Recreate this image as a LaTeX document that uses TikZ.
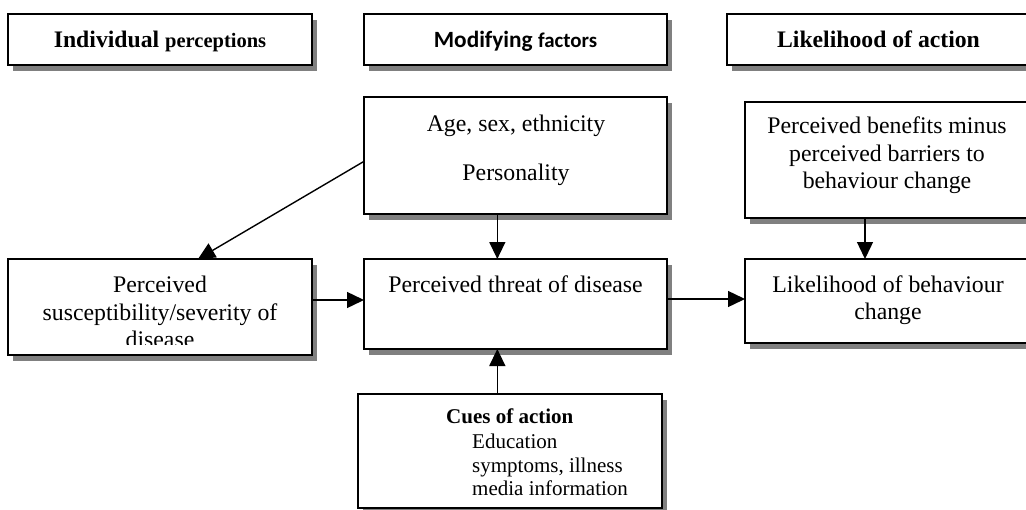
\documentclass[tikz,border=0pt]{standalone}
\usepackage{fontspec}
\setmainfont{Liberation Serif}
\newfontfamily\calibfont{Carlito}
\usetikzlibrary{arrows.meta,shadows,calc}
\definecolor{shadowgrey}{HTML}{808080}
\tikzset{
  box/.style={draw=black, line width=1.9pt, fill=white, anchor=north west,
    inner sep=0pt, outer sep=0pt,
    drop shadow={shadow xshift=5pt, shadow yshift=-6pt, fill=shadowgrey, opacity=1}},
  body/.style={font=\fontsize{23.8}{27.5}\selectfont, anchor=base, inner sep=0pt},
  cue/.style={font=\fontsize{21}{24}\selectfont, anchor=base west, inner sep=0pt},
  head/.style={anchor=base, inner sep=0pt},
  arr/.style={line width=1.4pt, -{Triangle[length=17pt,width=16pt]}},
}
\begin{document}
\begin{tikzpicture}[x=1pt,y=-1pt]
\useasboundingbox (0,0) rectangle (1026,509);

% column headings
\node[box, minimum width=304pt, minimum height=51pt] (hInd) at (8,14) {};
\node[box, minimum width=303pt, minimum height=51pt] (hMod) at (364,14) {};
\node[box, minimum width=303pt, minimum height=51pt] (hLik) at (727,14) {};
\node[head] (tInd) at (160,47) {\bfseries\fontsize{23.7}{28}\selectfont Individual \fontsize{20.5}{24}\selectfont perceptions};
\node[head] (tMod) at (515.5,47) {\calibfont\bfseries\fontsize{23.3}{28}\selectfont Modifying \fontsize{20.9}{24}\selectfont factors};
\node[head] (tLik) at (878.5,47) {\bfseries\fontsize{23.7}{28}\selectfont Likelihood of action};

% model boxes
\node[box, minimum width=303pt, minimum height=117pt] (age) at (364,97) {};
\node[box, minimum width=285pt, minimum height=116pt] (benef) at (745,102) {};
\node[box, minimum width=304pt, minimum height=96pt] (susc) at (8,259) {};
\node[box, minimum width=303pt, minimum height=90pt] (threat) at (364,259) {};
\node[box, minimum width=285pt, minimum height=84pt] (behav) at (745,259) {};
\node[box, minimum width=304pt, minimum height=114pt] (cues) at (358,394) {};

% box texts
\node[body] (tAge1) at (516,131) {Age, sex, ethnicity};
\node[body] (tAge2) at (516,180) {Personality};
\node[body] (tBen1) at (887,133) {Perceived benefits minus};
\node[body] (tBen2) at (887,161) {perceived barriers to};
\node[body] (tBen3) at (887,188) {behaviour change};
\begin{scope}
  \clip (8,259) rectangle (312,344);
  \node[body] (tSus1) at (160,292) {Perceived};
  \node[body] (tSus2) at (160,320) {susceptibility/severity of};
  \node[body] (tSus3) at (160,347) {disease};
\end{scope}
\node[body] (tThr) at (515.5,292) {Perceived threat of disease};
\node[body] (tBeh1) at (888,292) {Likelihood of behaviour};
\node[body] (tBeh2) at (888,319) {change};
\node[cue, font=\bfseries\fontsize{21}{24}\selectfont] (tCue0) at (446,423) {Cues of action};
\node[cue] (tCue1) at (472,448) {Education};
\node[cue] (tCue2) at (472,472) {symptoms, illness};
\node[cue] (tCue3) at (472,495) {media information};

% connectors
\coordinate (dStart) at ($(age.north west)!0.55!(age.south west)$);
\coordinate (dEnd) at ($(susc.north west)!0.625!(susc.north east)$);
\coordinate (vx) at ($(age.south west)!0.44!(age.south east)$);
\draw[arr] (dStart) -- (dEnd);
\draw[arr] (vx) -- (vx |- threat.north);
\draw[arr] (cues.north -| vx) -- (vx |- threat.south);
\draw[arr] (susc.east |- 0,300) -- (threat.west |- 0,300);
\draw[arr] (threat.east |- 0,299) -- (behav.west |- 0,299);
\draw[arr] (benef.south -| 865,0) -- (behav.north -| 865,0);
\end{tikzpicture}
\end{document}
